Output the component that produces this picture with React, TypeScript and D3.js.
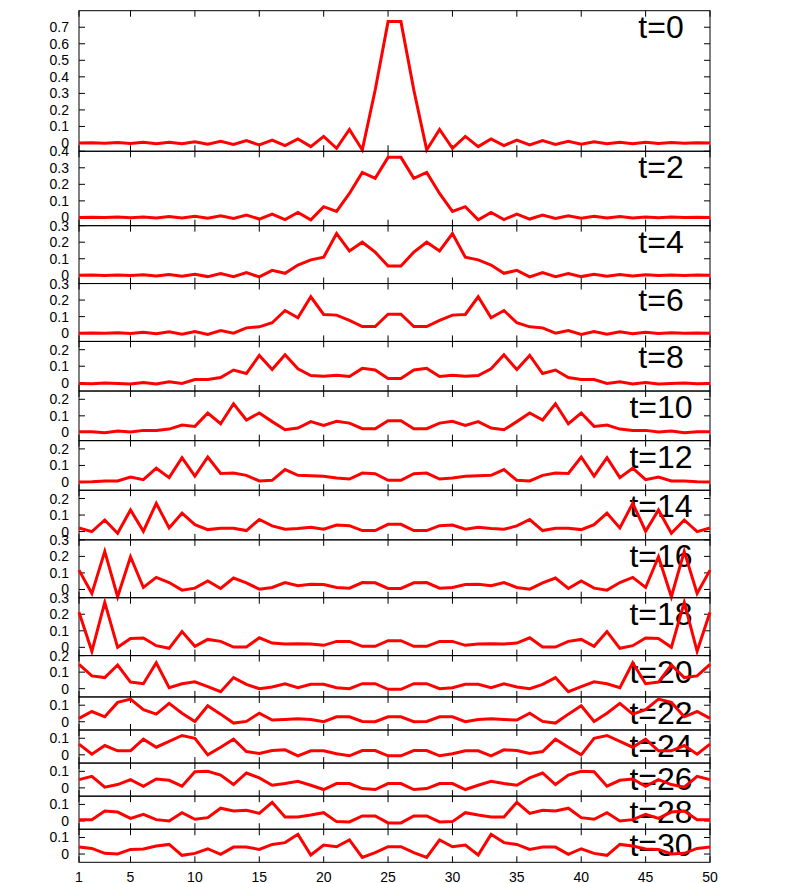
import React from "react";
import * as d3 from "d3";

const X_VALUES = d3.range(1, 51);
const X_TICKS = [1, 5, 10, 15, 20, 25, 30, 35, 40, 45, 50];
const PANEL_LABELS = ["t=0", "t=2", "t=4", "t=6", "t=8", "t=10", "t=12", "t=14", "t=16", "t=18", "t=20", "t=22", "t=24", "t=26", "t=28", "t=30"];
const Y_MIN = -0.05;
const Y_MAX = [0.8, 0.4, 0.3, 0.3, 0.25, 0.25, 0.25, 0.25, 0.3, 0.3, 0.2, 0.15, 0.15, 0.15, 0.15, 0.15];
const Y_TICK_TOP = [0.7, 0.4, 0.3, 0.3, 0.2, 0.2, 0.2, 0.2, 0.3, 0.3, 0.2, 0.1, 0.1, 0.1, 0.1, 0.1];

const t0 = [0, 0.002, -0.002, 0.003, -0.003, 0.004, -0.004, 0.005, -0.005, 0.008, -0.007, 0.01, -0.009, 0.014, -0.012, 0.018, -0.016, 0.025, -0.022, 0.04, -0.032, 0.082, -0.042, 0.32, 0.734, 0.734, 0.32, -0.042, 0.082, -0.032, 0.04, -0.022, 0.025, -0.016, 0.018, -0.012, 0.014, -0.009, 0.01, -0.007, 0.008, -0.005, 0.005, -0.004, 0.004, -0.003, 0.003, -0.002, 0.002, 0];
const t2 = [0, 0.001, -0.001, 0.002, -0.002, 0.003, -0.003, 0.005, -0.004, 0.007, -0.005, 0.01, -0.007, 0.014, -0.01, 0.02, -0.013, 0.03, -0.015, 0.065, 0.036, 0.145, 0.272, 0.236, 0.363, 0.363, 0.236, 0.272, 0.145, 0.036, 0.065, -0.015, 0.03, -0.013, 0.02, -0.01, 0.014, -0.007, 0.01, -0.005, 0.007, -0.004, 0.005, -0.003, 0.003, -0.002, 0.002, -0.001, 0.001, 0];
const t4 = [0, 0.001, -0.001, 0.002, -0.002, 0.003, -0.004, 0.004, -0.006, 0.006, -0.008, 0.01, -0.008, 0.016, -0.01, 0.03, 0.012, 0.062, 0.093, 0.109, 0.252, 0.147, 0.2, 0.14, 0.056, 0.056, 0.14, 0.2, 0.147, 0.252, 0.109, 0.093, 0.062, 0.012, 0.03, -0.01, 0.016, -0.008, 0.01, -0.008, 0.006, -0.006, 0.004, -0.004, 0.003, -0.002, 0.002, -0.001, 0.001, 0];
const t6 = [0, 0.001, -0.001, 0.002, -0.002, 0.006, -0.004, 0.008, -0.006, 0.01, -0.008, 0.016, 0, 0.032, 0.038, 0.063, 0.137, 0.093, 0.22, 0.113, 0.109, 0.077, 0.04, 0.04, 0.115, 0.115, 0.04, 0.04, 0.077, 0.109, 0.113, 0.22, 0.093, 0.137, 0.063, 0.038, 0.032, 0, 0.016, -0.008, 0.01, -0.006, 0.008, -0.004, 0.006, -0.002, 0.002, -0.001, 0.001, 0];
const t8 = [-0.004, -0.006, -0.002, -0.004, -0.008, 0.002, -0.008, 0.006, -0.004, 0.02, 0.02, 0.032, 0.077, 0.056, 0.165, 0.08, 0.169, 0.085, 0.044, 0.04, 0.046, 0.038, 0.087, 0.077, 0.026, 0.026, 0.077, 0.087, 0.038, 0.046, 0.04, 0.044, 0.085, 0.169, 0.08, 0.165, 0.056, 0.077, 0.032, 0.02, 0.02, -0.004, 0.006, -0.008, 0.002, -0.008, -0.004, -0.002, -0.006, -0.004];
const t10 = [0.004, 0.004, -0.002, 0.008, 0.002, 0.012, 0.012, 0.02, 0.044, 0.036, 0.117, 0.052, 0.173, 0.075, 0.117, 0.065, 0.016, 0.026, 0.065, 0.042, 0.067, 0.056, 0.022, 0.022, 0.07, 0.07, 0.022, 0.022, 0.056, 0.067, 0.042, 0.065, 0.026, 0.016, 0.065, 0.117, 0.075, 0.173, 0.052, 0.117, 0.036, 0.044, 0.02, 0.012, 0.012, 0.002, 0.008, -0.002, 0.004, 0.004];
const t12 = [0, 0.002, 0.006, 0.006, 0.03, 0.014, 0.083, 0.026, 0.147, 0.036, 0.151, 0.052, 0.054, 0.04, 0.006, 0.01, 0.075, 0.04, 0.038, 0.034, 0.024, 0.018, 0.054, 0.05, 0.01, 0.01, 0.05, 0.054, 0.018, 0.024, 0.034, 0.038, 0.04, 0.075, 0.01, 0.006, 0.04, 0.054, 0.052, 0.151, 0.036, 0.147, 0.026, 0.083, 0.014, 0.03, 0.006, 0.006, 0.002, 0];
const t14 = [0.022, 0, 0.07, -0.01, 0.131, 0.002, 0.171, 0.022, 0.111, 0.042, 0.012, 0.02, 0.02, 0.006, 0.073, 0.034, 0.014, 0.018, 0.026, 0.014, 0.04, 0.036, 0.006, 0.006, 0.044, 0.044, 0.006, 0.006, 0.036, 0.04, 0.014, 0.026, 0.018, 0.014, 0.034, 0.073, 0.006, 0.02, 0.02, 0.012, 0.042, 0.111, 0.022, 0.171, 0.002, 0.131, -0.01, 0.07, 0, 0.022];
const t16 = [0.117, -0.024, 0.23, -0.044, 0.198, 0.012, 0.073, 0.042, -0.004, 0.008, 0.052, 0.006, 0.069, 0.04, 0.002, 0.012, 0.042, 0.022, 0.032, 0.03, 0.012, 0.008, 0.042, 0.04, 0.006, 0.006, 0.04, 0.042, 0.008, 0.012, 0.03, 0.032, 0.022, 0.042, 0.012, 0.002, 0.04, 0.069, 0.006, 0.052, 0.008, -0.004, 0.042, 0.073, 0.012, 0.198, -0.044, 0.23, -0.024, 0.117];
const t18 = [0.212, -0.024, 0.272, 0, 0.054, 0.056, 0.01, -0.006, 0.095, 0.006, 0.048, 0.036, 0.002, 0.002, 0.058, 0.026, 0.02, 0.022, 0.02, 0.012, 0.036, 0.036, 0.006, 0.006, 0.04, 0.04, 0.006, 0.006, 0.036, 0.036, 0.012, 0.02, 0.022, 0.02, 0.026, 0.058, 0.002, 0.002, 0.036, 0.048, 0.006, 0.095, -0.006, 0.01, 0.056, 0.054, 0, 0.272, -0.024, 0.212];
const t20 = [0.147, 0.077, 0.067, 0.143, 0.04, 0.03, 0.157, 0.006, 0.03, 0.042, 0.012, -0.018, 0.067, 0.026, 0, 0.01, 0.03, 0.006, 0.026, 0.026, 0.006, 0, 0.03, 0.03, -0.004, -0.004, 0.03, 0.03, 0, 0.006, 0.026, 0.026, 0.006, 0.03, 0.01, 0, 0.026, 0.067, -0.018, 0.012, 0.042, 0.03, 0.006, 0.157, 0.03, 0.04, 0.143, 0.067, 0.077, 0.147];
const t22 = [0.02, 0.062, 0.03, 0.117, 0.137, 0.073, 0.046, 0.111, 0.052, 0.002, 0.097, 0.046, -0.008, 0.002, 0.052, 0.01, 0.014, 0.018, 0.014, 0, 0.03, 0.03, 0.002, 0, 0.03, 0.03, 0, 0.002, 0.03, 0.03, 0, 0.014, 0.018, 0.014, 0.01, 0.052, 0.002, -0.008, 0.046, 0.097, 0.002, 0.052, 0.111, 0.046, 0.073, 0.137, 0.117, 0.03, 0.062, 0.02];
const t24 = [0.065, 0.004, 0.056, 0.024, 0.024, 0.095, 0.046, 0.081, 0.117, 0.1, 0, 0.046, 0.095, 0.02, 0.008, 0.026, 0.03, -0.006, 0.024, 0.024, 0.006, -0.006, 0.026, 0.026, -0.006, -0.006, 0.026, 0.026, -0.006, 0.006, 0.024, 0.024, -0.006, 0.03, 0.026, 0.008, 0.02, 0.095, 0.046, 0, 0.1, 0.117, 0.081, 0.046, 0.095, 0.024, 0.024, 0.056, 0.004, 0.065];
const t26 = [0.05, 0.07, 0.004, 0.02, 0.05, 0.01, 0.054, 0.046, 0.01, 0.097, 0.1, 0.077, 0.02, 0.09, 0.06, 0.016, 0.026, 0.04, 0.016, -0.01, 0.026, 0.026, -0.004, -0.01, 0.026, 0.026, -0.01, -0.004, 0.026, 0.026, -0.01, 0.016, 0.04, 0.026, 0.016, 0.06, 0.09, 0.02, 0.077, 0.1, 0.097, 0.01, 0.046, 0.054, 0.01, 0.05, 0.02, 0.004, 0.07, 0.05];
const t28 = [0.008, 0.008, 0.06, 0.054, 0.016, 0.04, 0.008, 0, 0.05, 0.01, 0.02, 0.077, 0.06, 0.065, 0.046, 0.113, 0.024, 0.024, 0.036, 0.05, -0.004, -0.006, 0.03, 0.03, -0.012, -0.012, 0.03, 0.03, -0.006, -0.004, 0.05, 0.036, 0.024, 0.024, 0.113, 0.046, 0.065, 0.06, 0.077, 0.02, 0.01, 0.05, 0, 0.008, 0.04, 0.016, 0.054, 0.06, 0.008, 0.008];
const t30 = [0.042, 0.034, 0.004, 0, 0.028, 0.03, 0.048, 0.058, -0.008, 0.004, 0.032, -0.002, 0.042, 0.042, 0.028, 0.058, 0.069, 0.119, -0.006, 0.054, 0.044, 0.085, -0.02, 0.008, 0.044, 0.044, 0.008, -0.02, 0.085, 0.044, 0.054, -0.006, 0.119, 0.069, 0.058, 0.028, 0.042, 0.042, -0.002, 0.032, 0.004, -0.008, 0.058, 0.048, 0.03, 0.028, 0, 0.004, 0.034, 0.042];

const SERIES = [t0, t2, t4, t6, t8, t10, t12, t14, t16, t18, t20, t22, t24, t26, t28, t30];

const W = 789;
const H = 883;
const LEFT = 79;
const RIGHT = 710;
const TOP = 10.7;
const BOTTOM = 862.3;
const FONT = "'Liberation Sans', Arial, Helvetica, sans-serif";

export default function App() {
  const ranges = Y_MAX.map((m) => m - Y_MIN);
  const total = d3.sum(ranges);
  const unit = (BOTTOM - TOP) / total;
  const x = d3.scaleLinear().domain([1, 50]).range([LEFT, RIGHT]);

  let acc = 0;
  const panels = SERIES.map((data, i) => {
    const top = TOP + acc * unit;
    acc += ranges[i];
    const bottom = TOP + acc * unit;
    const y = d3.scaleLinear().domain([Y_MIN, Y_MAX[i]]).range([bottom, top]);
    const yTicks = d3.range(0, Y_TICK_TOP[i] + 1e-6, 0.1).map((v) => Math.round(v * 10) / 10);
    const line = d3
      .line<number>()
      .x((_, j) => x(X_VALUES[j]))
      .y((d) => y(d));
    return { data, top, bottom, y, yTicks, path: line(data) || "", label: PANEL_LABELS[i] };
  });

  return (
    <svg
      width={W}
      height={H}
      style={{ position: "absolute", left: 0, top: 0, display: "block", background: "#fff" }}
      fontFamily={FONT}
    >
      <rect x={0} y={0} width={W} height={H} fill="#fff" />
      {panels.map((p, i) => (
        <g key={i}>
          <rect
            x={LEFT}
            y={p.top}
            width={RIGHT - LEFT}
            height={p.bottom - p.top}
            fill="none"
            stroke="#000"
            strokeWidth={1}
          />
          {X_TICKS.map((t) => (
            <g key={"xt" + t}>
              <line x1={x(t)} x2={x(t)} y1={p.top} y2={p.top + 6} stroke="#000" strokeWidth={1} />
              <line x1={x(t)} x2={x(t)} y1={p.bottom} y2={p.bottom - 6} stroke="#000" strokeWidth={1} />
            </g>
          ))}
          {p.yTicks.map((t) => (
            <g key={"yt" + t}>
              <line x1={LEFT} x2={LEFT + 6} y1={p.y(t)} y2={p.y(t)} stroke="#000" strokeWidth={1} />
              <line x1={RIGHT} x2={RIGHT - 6} y1={p.y(t)} y2={p.y(t)} stroke="#000" strokeWidth={1} />
              <text x={69} y={p.y(t) + 5} textAnchor="end" fontSize={14} fill="#000">
                {t === 0 ? "0" : String(t)}
              </text>
            </g>
          ))}
          <text x={661} y={p.top + 27} textAnchor="middle" fontSize={32} fill="#000">
            {p.label}
          </text>
          <path d={p.path} fill="none" stroke="#ff0000" strokeWidth={3} strokeLinejoin="miter" />
        </g>
      ))}
      {X_TICKS.map((t) => (
        <text key={"xl" + t} x={x(t)} y={882} textAnchor="middle" fontSize={14} fill="#000">
          {t}
        </text>
      ))}
    </svg>
  );
}
